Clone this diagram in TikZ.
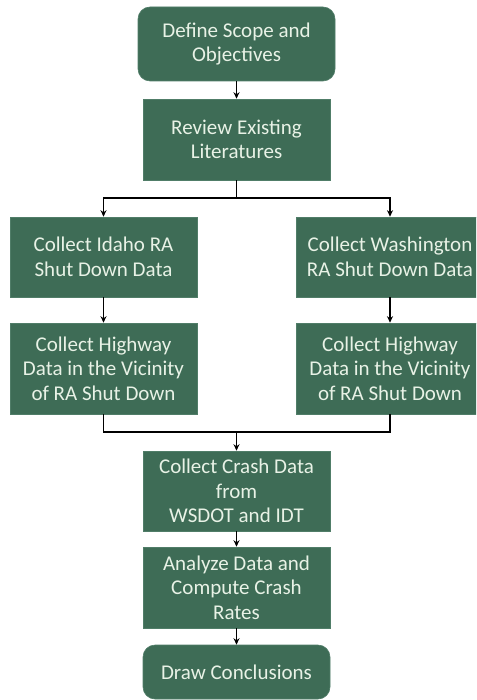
\documentclass[tikz,border=0pt]{standalone}
\usepackage{fontspec}
\setmainfont{Carlito}
\usetikzlibrary{arrows.meta}
\definecolor{boxgreen}{RGB}{62,108,86}
\definecolor{boxedge}{RGB}{80,125,104}
\definecolor{boxtext}{RGB}{232,242,230}
\tikzset{
  stepbox/.style={rectangle, fill=boxgreen, draw=boxedge, line width=0.6pt,
    text=boxtext, align=center, inner sep=2pt,
    font=\fontsize{21}{24.5}\selectfont, minimum width=187pt},
  roundbox/.style={stepbox, rounded corners=12pt},
  conn/.style={draw=black, line width=1.4pt},
  arr/.style={conn, -{Stealth[length=6.5pt,width=6pt]}}
}
\begin{document}
\begin{tikzpicture}[x=1pt,y=-1pt]
\useasboundingbox (0,0) rectangle (476,700);
\clip (0,0) rectangle (476,700);
\node[roundbox, minimum width=197pt, minimum height=74pt] (scope) at (236.5,44) {Define Scope and\\Objectives};
\node[stepbox, minimum height=81pt] (review) at (236.5,139.5) {Review Existing\\Literatures};
\node[stepbox, minimum height=80pt] (idaho) at (103.5,257) {Collect Idaho RA\\Shut Down Data};
\node[stepbox, minimum height=80pt] (wash) at (390,257) {Collect Washington\\RA Shut Down Data};
\node[stepbox, minimum height=91pt] (hwyl) at (103.5,368.5) {Collect Highway\\Data in the Vicinity\\of RA Shut Down};
\node[stepbox, minimum height=91pt] (hwyr) at (390,368.5) {Collect Highway\\Data in the Vicinity\\of RA Shut Down};
\node[stepbox, minimum height=80pt] (crash) at (236.5,491) {Collect Crash Data\\from\\WSDOT and IDT};
\node[stepbox, minimum height=81pt] (analyze) at (236.5,587.5) {Analyze Data and\\Compute Crash\\Rates};
\node[roundbox, minimum height=54pt] (concl) at (236.5,672) {Draw Conclusions};
\coordinate (split) at (236.5,198);
\coordinate (merge) at (236.5,432);
\draw[arr] (scope) -- (review);
\draw[conn] (review) -- (split);
\draw[arr] (split) -| (idaho);
\draw[arr] (split) -| (wash);
\draw[arr] (idaho) -- (hwyl);
\draw[arr] (wash) -- (hwyr);
\draw[conn] (hwyl) |- (merge) -| (hwyr);
\draw[arr] (merge) -- (crash);
\draw[arr] (crash) -- (analyze);
\draw[arr] (analyze) -- (concl);
\end{tikzpicture}
\end{document}
